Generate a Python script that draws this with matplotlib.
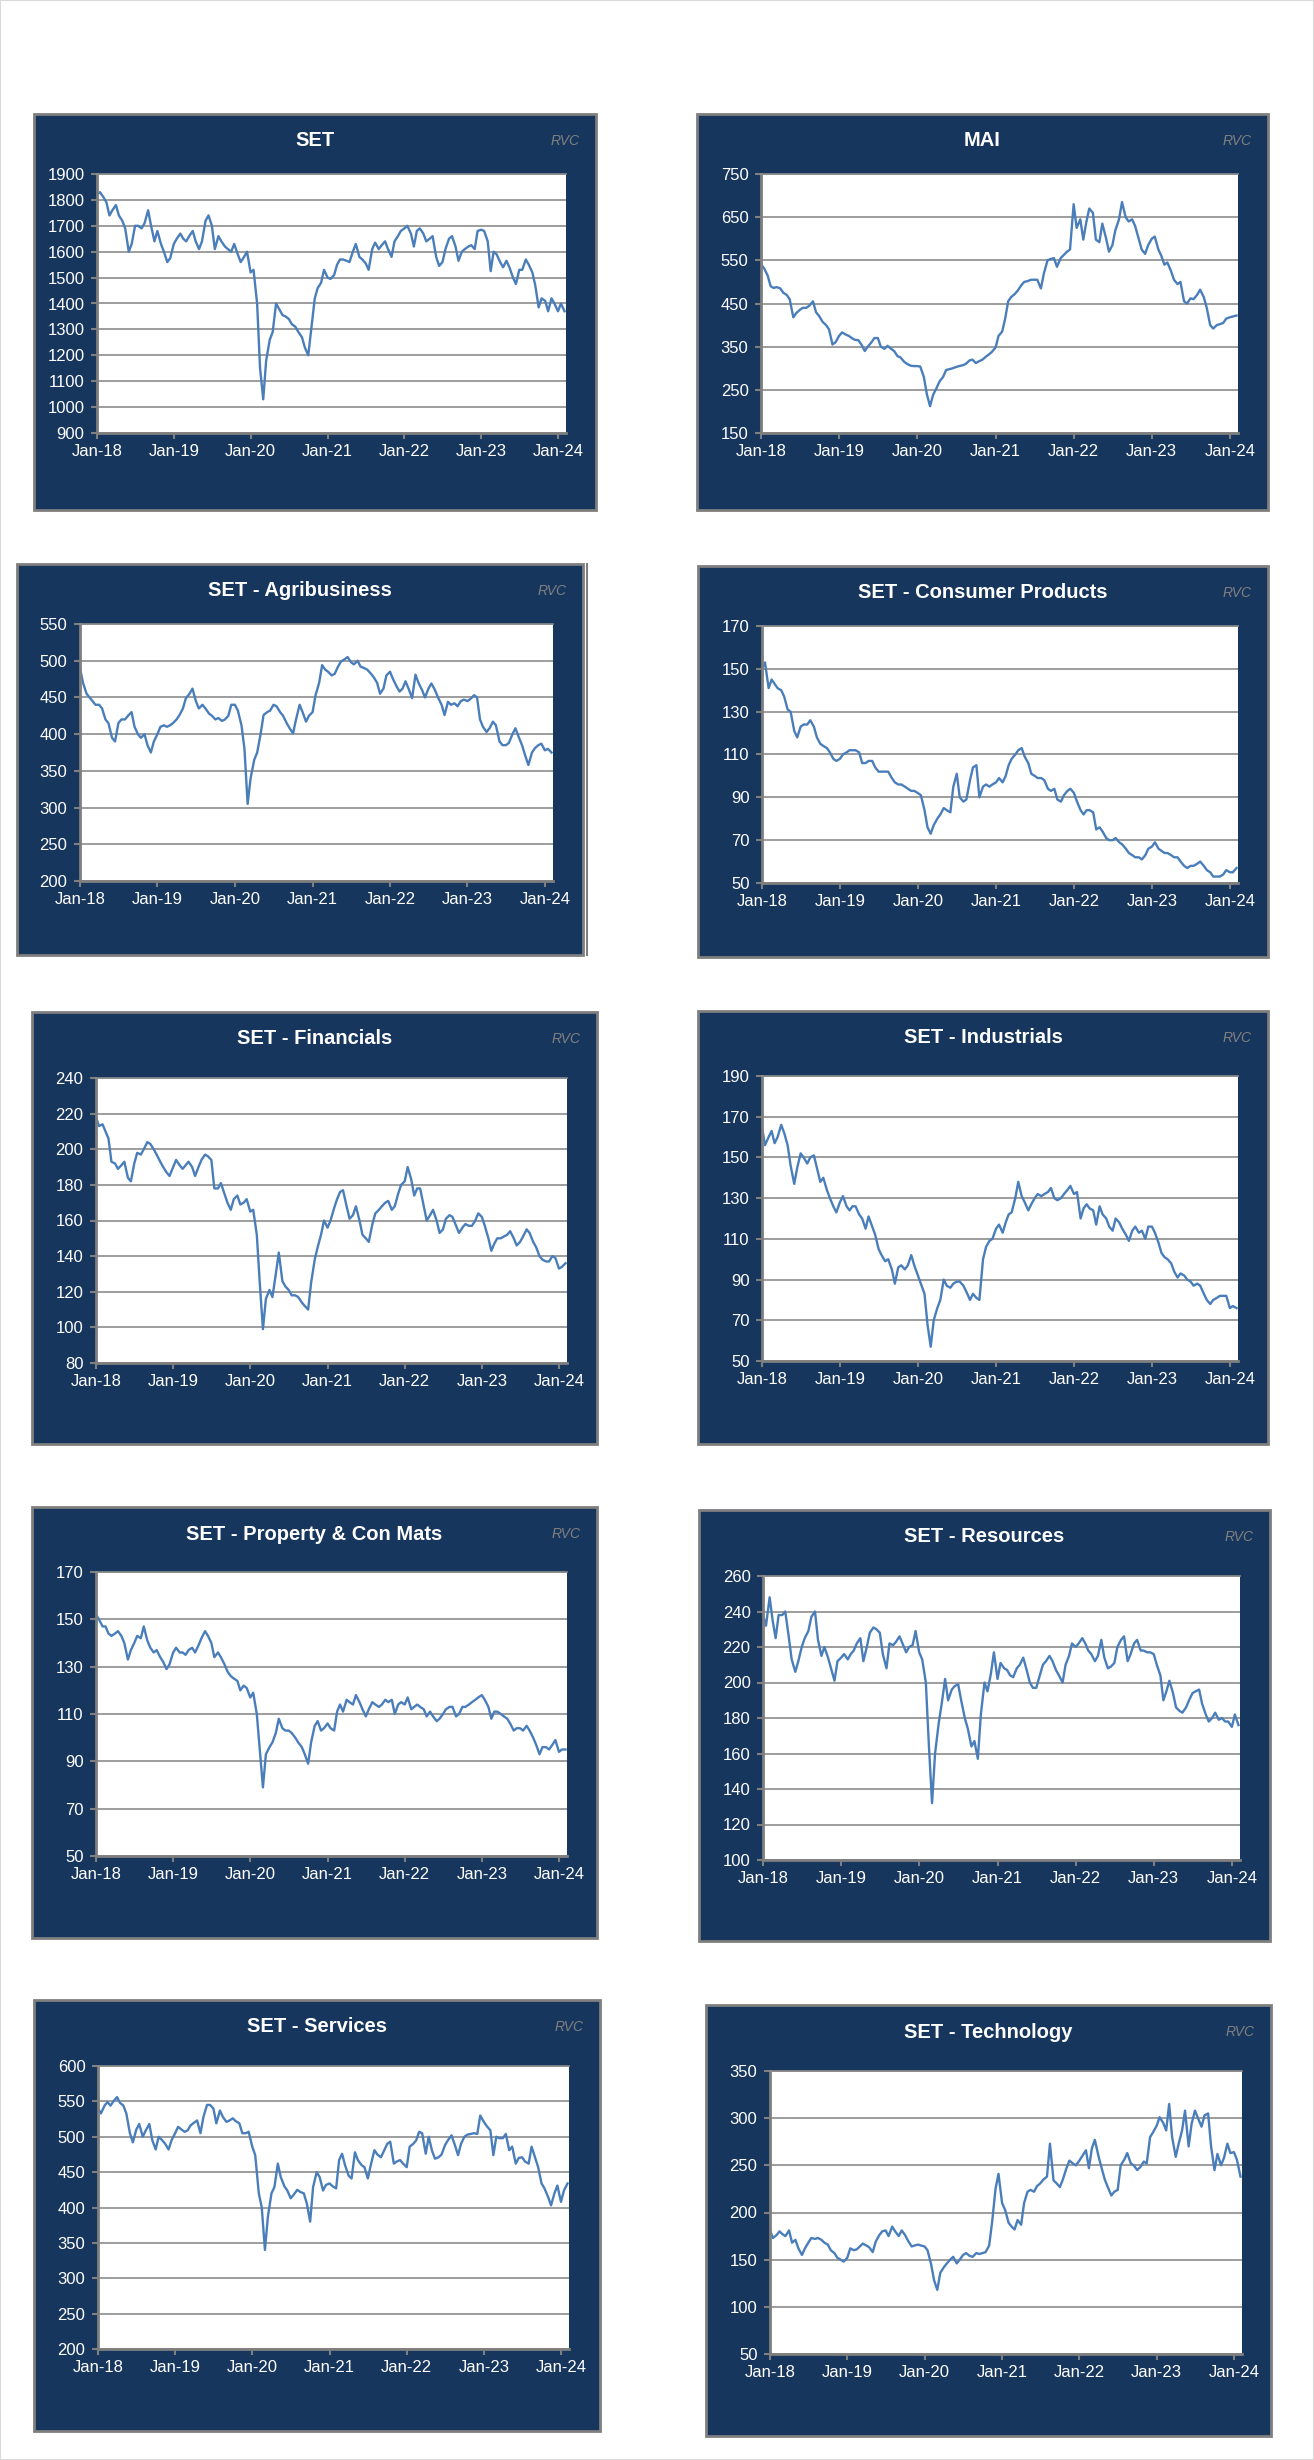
"""
SET and sector indices, Jan-18 to Jan-24: ten small Excel-style panels.
"""
import numpy as np
import pandas as pd
import matplotlib
matplotlib.use("Agg")
import matplotlib.pyplot as plt
import matplotlib.dates as mdates
from matplotlib.patches import Rectangle
from matplotlib.lines import Line2D
from matplotlib import font_manager

# ===== data: semi-monthly readings (1st / 16th), Jan-18 .. Feb-24 =====
start_date = "2018-01-01"

set_index = [
    1820, 1830, 1810, 1790, 1740, 1760, 1780, 1740, 1720, 1690, 1600, 1630, 1700, 1700, 1690, 1710, 1760, 1700, 1640, 1680, 1630, 1600, 1560, 1575,
    1630, 1650, 1670, 1650, 1640, 1660, 1680, 1640, 1610, 1640, 1720, 1740, 1700, 1610, 1660, 1640, 1620, 1610, 1600, 1630, 1590, 1560, 1580, 1600,
    1520, 1530, 1400, 1150, 1030, 1180, 1260, 1290, 1400, 1380, 1355, 1350, 1340, 1320, 1310, 1290, 1270, 1230, 1200, 1300, 1420, 1460, 1480, 1530,
    1500, 1495, 1510, 1550, 1570, 1570, 1565, 1560, 1600, 1630, 1580, 1570, 1555, 1530, 1610, 1635, 1610, 1625, 1640, 1610, 1580, 1640, 1660, 1680,
    1690, 1700, 1670, 1620, 1680, 1690, 1670, 1640, 1650, 1660, 1580, 1545, 1560, 1610, 1650, 1660, 1620, 1565, 1600, 1610, 1620, 1625, 1610, 1680,
    1685, 1680, 1640, 1525, 1600, 1590, 1560, 1540, 1565, 1540, 1500, 1475, 1530, 1530, 1570, 1550, 1520, 1470, 1385, 1420, 1410, 1370, 1420, 1400,
    1370, 1400, 1370,
]

mai_index = [
    540, 532, 515, 490, 486, 488, 485, 475, 470, 460, 418, 428, 435, 440, 440, 445, 455, 430, 420, 408, 400, 390, 355, 360,
    375, 383, 378, 375, 370, 366, 365, 355, 340, 350, 360, 370, 370, 350, 345, 352, 345, 340, 328, 325, 315, 310, 306, 305,
    305, 304, 280, 240, 212, 238, 255, 270, 280, 296, 298, 300, 303, 305, 307, 310, 318, 320, 312, 316, 320, 326, 332, 338,
    348, 375, 385, 415, 455, 465, 472, 480, 492, 500, 502, 505, 505, 505, 485, 520, 550, 553, 555, 535, 555, 562, 570, 575,
    680, 625, 645, 598, 638, 670, 660, 598, 592, 635, 602, 570, 585, 620, 645, 685, 650, 640, 645, 630, 600, 575, 565, 585,
    600, 605, 575, 560, 540, 545, 525, 505, 495, 500, 455, 450, 462, 460, 470, 482, 465, 440, 400, 392, 400, 402, 405, 415,
    418, 420, 422,
]

agribusiness = [
    490, 470, 455, 450, 445, 440, 440, 435, 420, 415, 395, 390, 415, 420, 420, 425, 430, 410, 400, 395, 400, 385, 375, 390,
    400, 410, 412, 410, 412, 415, 420, 426, 435, 449, 455, 462, 445, 435, 440, 435, 428, 425, 420, 422, 418, 420, 425, 440,
    440, 432, 412, 380, 305, 340, 365, 375, 400, 426, 430, 432, 440, 438, 430, 425, 415, 408, 401, 420, 440, 430, 417, 425,
    430, 453, 470, 494, 488, 485, 480, 482, 492, 499, 502, 505, 498, 495, 500, 492, 490, 488, 483, 478, 470, 455, 462, 480,
    485, 475, 465, 458, 462, 472, 460, 449, 481, 470, 460, 450, 462, 469, 460, 450, 440, 426, 444, 440, 442, 438, 445, 447,
    445, 448, 453, 450, 420, 410, 403, 408, 417, 412, 390, 385, 385, 388, 400, 408, 395, 385, 370, 358, 375, 381, 385, 387,
    378, 380, 375,
]

consumer_products = [
    150, 153, 141, 145, 143, 141, 140, 137, 131, 130, 121, 118, 123, 124, 124, 126, 123, 118, 115, 114, 113, 111, 108, 107,
    108, 110, 111, 112, 112, 112, 111, 106, 106, 107, 107, 104, 102, 102, 102, 102, 99, 97, 96, 96, 95, 94, 93, 93,
    92, 91, 84, 76, 73, 77, 80, 82, 85, 84, 83, 95, 101, 90, 88, 89, 98, 104, 105, 90, 95, 96, 95, 96,
    97, 99, 97, 100, 105, 108, 110, 112, 113, 109, 106, 101, 100, 99, 99, 98, 94, 93, 94, 89, 88, 91, 93, 94,
    92, 88, 84, 82, 84, 84, 83, 75, 76, 74, 71, 70, 70, 71, 69, 68, 66, 64, 63, 62, 62, 61, 63, 66,
    67, 69, 66, 65, 64, 64, 63, 62, 62, 60, 58, 57, 58, 58, 59, 60, 58, 56, 55, 53, 53, 53, 54, 56,
    55, 55, 57,
]

financials = [
    218, 213, 214, 210, 206, 193, 192, 189, 191, 193, 184, 182, 192, 198, 197, 200, 204, 203, 200, 197, 193, 190, 187, 185,
    190, 194, 191, 189, 191, 193, 190, 185, 190, 194, 197, 196, 194, 178, 178, 181, 175, 170, 166, 172, 174, 169, 170, 172,
    165, 166, 152, 125, 99, 116, 121, 117, 130, 142, 126, 123, 121, 118, 118, 117, 114, 112, 110, 125, 138, 145, 152, 160,
    156, 160, 167, 172, 176, 177, 168, 161, 163, 168, 160, 152, 150, 148, 158, 164, 166, 168, 170, 171, 166, 168, 175, 180,
    182, 190, 183, 174, 178, 178, 168, 160, 163, 166, 160, 153, 155, 161, 163, 162, 157, 153, 156, 158, 157, 157, 160, 164,
    162, 157, 150, 143, 147, 150, 150, 151, 152, 154, 150, 146, 148, 151, 155, 153, 148, 145, 140, 138, 137, 137, 140, 139,
    133, 134, 136,
]

industrials = [
    165, 156, 160, 163, 157, 160, 166, 162, 156, 146, 137, 145, 152, 150, 147, 150, 151, 145, 138, 140, 134, 130, 126, 123,
    128, 131, 126, 124, 126, 126, 122, 120, 115, 121, 116, 112, 105, 102, 99, 100, 95, 88, 96, 97, 95, 97, 102, 97,
    92, 88, 83, 68, 57, 70, 76, 80, 90, 87, 86, 88, 89, 89, 87, 84, 80, 83, 81, 80, 100, 106, 109, 110,
    115, 117, 113, 118, 122, 123, 130, 138, 131, 128, 124, 127, 130, 132, 131, 132, 133, 135, 130, 129, 130, 132, 134, 136,
    132, 133, 120, 125, 127, 125, 124, 117, 126, 122, 120, 116, 114, 120, 118, 115, 112, 109, 114, 116, 113, 114, 110, 116,
    116, 113, 108, 103, 101, 100, 98, 94, 91, 93, 92, 90, 89, 87, 88, 87, 83, 80, 78, 80, 81, 82, 82, 82,
    76, 77, 76,
]

property_con_mats = [
    152, 150, 147, 147, 144, 143, 144, 145, 143, 140, 133, 137, 140, 143, 142, 147, 141, 138, 136, 137, 134, 132, 129, 131,
    136, 138, 136, 136, 135, 137, 138, 136, 139, 142, 145, 143, 140, 134, 136, 134, 131, 128, 126, 125, 124, 120, 122, 121,
    117, 119, 110, 95, 79, 93, 96, 98, 102, 108, 104, 103, 103, 102, 100, 98, 96, 93, 89, 98, 105, 107, 103, 104,
    106, 104, 103, 111, 114, 111, 116, 115, 114, 118, 115, 112, 109, 112, 115, 114, 113, 114, 116, 115, 116, 110, 114, 115,
    114, 117, 112, 113, 114, 113, 112, 109, 111, 109, 107, 108, 110, 112, 113, 113, 109, 110, 113, 113, 114, 115, 116, 117,
    118, 116, 113, 108, 111, 111, 110, 109, 108, 106, 103, 104, 104, 103, 105, 103, 100, 97, 93, 96, 96, 95, 97, 99,
    94, 95, 95,
]

resources = [
    238, 232, 248, 235, 225, 238, 238, 240, 226, 213, 206, 212, 220, 225, 229, 237, 240, 224, 215, 220, 214, 208, 201, 212,
    214, 216, 213, 216, 218, 222, 225, 212, 220, 228, 231, 230, 228, 216, 208, 222, 221, 223, 226, 222, 217, 220, 221, 229,
    217, 213, 200, 165, 132, 160, 177, 188, 202, 190, 196, 198, 199, 190, 180, 174, 164, 167, 157, 182, 200, 195, 205, 217,
    202, 211, 208, 207, 204, 203, 208, 210, 214, 208, 200, 197, 197, 203, 210, 212, 215, 212, 207, 204, 200, 210, 215, 222,
    220, 222, 225, 222, 218, 216, 212, 215, 224, 214, 208, 209, 211, 220, 224, 226, 212, 216, 222, 224, 218, 218, 217, 217,
    216, 210, 204, 190, 195, 201, 194, 186, 184, 183, 186, 190, 194, 195, 196, 188, 182, 178, 180, 183, 179, 180, 178, 178,
    175, 182, 176,
]

services = [
    540, 533, 544, 549, 544, 550, 556, 548, 544, 533, 505, 492, 510, 518, 500, 509, 518, 495, 482, 500, 495, 490, 482, 495,
    505, 514, 510, 507, 509, 516, 520, 523, 505, 528, 545, 545, 540, 519, 537, 528, 521, 523, 526, 522, 519, 505, 505, 507,
    486, 474, 420, 400, 340, 387, 420, 429, 462, 443, 430, 424, 413, 418, 425, 422, 420, 406, 380, 429, 450, 443, 424, 432,
    434, 430, 427, 467, 476, 460, 445, 441, 478, 467, 460, 457, 441, 460, 481, 475, 471, 480, 490, 493, 462, 465, 467, 462,
    457, 486, 490, 495, 507, 505, 476, 500, 480, 469, 471, 475, 488, 495, 502, 490, 474, 490, 500, 503, 504, 505, 504, 530,
    521, 515, 509, 474, 500, 498, 498, 504, 481, 486, 462, 470, 471, 465, 462, 486, 470, 457, 434, 427, 415, 403, 420, 431,
    408, 424, 434,
]

technology = [
    181, 173, 176, 180, 177, 175, 181, 168, 171, 162, 155, 162, 168, 173, 172, 173, 171, 168, 166, 160, 157, 152, 150, 148,
    152, 162, 160, 161, 164, 167, 165, 163, 158, 169, 176, 180, 181, 175, 185, 180, 175, 181, 176, 170, 164, 165, 166, 165,
    164, 160, 145, 128, 118, 136, 142, 146, 150, 153, 146, 150, 155, 157, 154, 153, 157, 156, 157, 158, 165, 190, 225, 241,
    210, 203, 189, 185, 182, 192, 187, 210, 222, 224, 222, 228, 231, 235, 238, 273, 234, 231, 227, 235, 247, 255, 252, 250,
    255, 260, 266, 247, 268, 277, 260, 248, 235, 227, 218, 222, 224, 250, 256, 263, 252, 250, 245, 248, 254, 252, 280, 285,
    292, 301, 295, 287, 315, 280, 259, 273, 287, 308, 270, 294, 308, 300, 291, 303, 305, 270, 245, 262, 250, 258, 273, 263,
    264, 256, 238,
]

# ===== layout (pixels of the 1314 x 2460 canvas) =====
W, H = 1314.0, 2460.0
panels = [
    # title, series, y-min, y-max, step, box (l, t, r, b), plot area (l, t, r, b)
    ("SET", set_index, 900, 1900, 100, (34, 114, 596, 510), (97, 174, 566, 433)),
    ("MAI", mai_index, 150, 750, 100, (697, 114, 1268, 510), (761, 174, 1238, 433)),
    ("SET - Agribusiness", agribusiness, 200, 550, 50, (17, 564, 583, 955), (80, 624, 553, 881)),
    ("SET - Consumer Products", consumer_products, 50, 170, 20, (698, 566, 1268, 957), (762, 626, 1238, 883)),
    ("SET - Financials", financials, 80, 240, 20, (32, 1012, 597, 1444), (96, 1078, 567, 1363)),
    ("SET - Industrials", industrials, 50, 190, 20, (698, 1011, 1268, 1444), (762, 1076, 1238, 1361)),
    ("SET - Property & Con Mats", property_con_mats, 50, 170, 20, (32, 1507, 597, 1938), (96, 1572, 567, 1856)),
    ("SET - Resources", resources, 100, 260, 20, (699, 1510, 1270, 1941), (763, 1576, 1240, 1860)),
    ("SET - Services", services, 200, 600, 50, (34, 2000, 600, 2431), (98, 2066, 569, 2349)),
    ("SET - Technology", technology, 50, 350, 50, (706, 2005, 1271, 2436), (770, 2071, 1242, 2354)),
]

NAVY = "#17365D"
EDGE = "#7F7F7F"
LINE = "#4A7EBB"
GRID = "#8C8C8C"

names = {f.name for f in font_manager.fontManager.ttflist}
if "Liberation Sans Narrow" in names:
    family, scale = "Liberation Sans Narrow", 1.0
    TITLE_SIZE, TICK_SIZE, RVC_SIZE = 17, 13.5, 12
else:
    family = "Liberation Sans"
    TITLE_SIZE, TICK_SIZE, RVC_SIZE = 14.5, 12, 10
plt.rcParams["font.family"] = [family, "DejaVu Sans"]

fig = plt.figure(figsize=(W / 100, H / 100), dpi=100)
fig.patch.set_facecolor("white")
fig.patches.append(Rectangle((0, 0), 1, 1, transform=fig.transFigure,
                             facecolor="none", edgecolor="#D9D9D9", lw=1.5, zorder=-2))

x_min = pd.Timestamp("2018-01-01")
x_max = pd.Timestamp("2024-02-08")

for title, values, y_lo, y_hi, step, box, area in panels:
    bl, bt, br, bb = box
    fig.patches.append(Rectangle((bl / W, 1 - bb / H), (br - bl) / W, (bb - bt) / H,
                                 transform=fig.transFigure, facecolor=NAVY,
                                 edgecolor=EDGE, lw=2.0, zorder=-1))

    pl, pt, pr, pb = area
    ax = fig.add_axes([pl / W, 1 - pb / H, (pr - pl) / W, (pb - pt) / H])
    ax.set_zorder(2)
    ax.set_facecolor("white")

    dates = pd.date_range(start_date, periods=len(values), freq="SMS")
    ax.plot(dates, values, color=LINE, lw=1.7, solid_joinstyle="round")

    ax.set_xlim(x_min, x_max)
    ax.set_ylim(y_lo, y_hi)
    ax.set_yticks(np.arange(y_lo, y_hi + step, step))
    ax.xaxis.set_major_locator(mdates.YearLocator())
    ax.xaxis.set_major_formatter(mdates.DateFormatter("%b-%y"))

    ax.yaxis.grid(True, color=GRID, lw=1.2)
    ax.set_axisbelow(True)
    ax.spines["right"].set_visible(False)
    ax.spines["top"].set_color(GRID)
    ax.spines["top"].set_linewidth(1.2)
    for side in ["left", "bottom"]:
        ax.spines[side].set_color(EDGE)
        ax.spines[side].set_linewidth(2.0)
    ax.tick_params(axis="both", colors=EDGE, labelcolor="white",
                   labelsize=TICK_SIZE, length=4, width=1.5)
    ax.tick_params(axis="y", pad=5)
    ax.tick_params(axis="x", pad=4)

    title_y = 1 - (bt + 27) / H
    fig.text((bl + br) / 2 / W, title_y, title, ha="center", va="center",
             color="white", fontsize=TITLE_SIZE, fontweight="bold", zorder=3)
    fig.text((br - 16) / W, title_y, "RVC", ha="right", va="center",
             color="#808080", fontsize=RVC_SIZE, style="italic", zorder=3)

# the Agribusiness frame shows a doubled right edge
bl, bt, br, bb = panels[2][5]
fig.add_artist(Line2D([(br + 4) / W, (br + 4) / W], [1 - bt / H, 1 - bb / H],
                      transform=fig.transFigure, color=EDGE, lw=1.5, zorder=3))

fig.savefig("out.png", dpi=100, facecolor="white")
plt.close(fig)
